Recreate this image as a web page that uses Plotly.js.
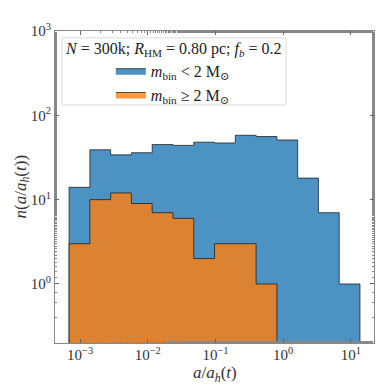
<!DOCTYPE html>
<html>
<head>
<meta charset="utf-8">
<script src="https://cdn.plot.ly/plotly-3.0.1.min.js"></script>
<style>
  html, body { margin: 0; padding: 0; background: #fff; }
  #chart { width: 390px; height: 390px; }
</style>
</head>
<body>
<div id="chart"></div>
<script>
// histogram bins in log10(a/a_h), equal width
var binStart = -3.162;
var binWidth = 0.3068;

// counts per bin
var countsLow  = [14, 39, 34, 36, 45, 44, 48, 47, 58, 56, 51, 18, 7, 1];   // m_bin < 2 Msun
var countsHigh = [3, 10, 12, 9, 7, 6, 2, 3, 3, 1, 0, 0, 0, 0];            // m_bin >= 2 Msun

// tick labels
var xTickVals = [1e-3, 1e-2, 1e-1, 1, 10];
var xTickText = ['10<sup>−3</sup>', '10<sup>−2</sup>', '10<sup>−1</sup>', '10<sup>0</sup>', '10<sup>1</sup>'];
var yTickVals = [1, 10, 100, 1000];
var yTickText = ['10<sup>0</sup>', '10<sup>1</sup>', '10<sup>2</sup>', '10<sup>3</sup>'];

var floorVal = 0.01; // below the visible y range, closes the filled steps

function stepTrace(counts, name, fillColor) {
  // x: bin edges, y: count of the bin starting at that edge (hv steps)
  var xs = [], ys = [];
  xs.push(Math.pow(10, binStart)); ys.push(floorVal);
  for (var i = 0; i < counts.length; i++) {
    xs.push(Math.pow(10, binStart + i * binWidth));
    ys.push(counts[i] > 0 ? counts[i] : floorVal);
  }
  xs.push(Math.pow(10, binStart + counts.length * binWidth));
  ys.push(floorVal);
  return {
    x: xs, y: ys,
    type: 'scatter',
    mode: 'lines',
    name: name,
    line: { shape: 'hv', color: 'rgba(25,25,25,0.75)', width: 1 },
    fill: 'toself',
    fillcolor: fillColor,
    hoverinfo: 'skip'
  };
}

var traces = [
  stepTrace(countsLow, '<i>m</i><sub>bin</sub> < 2 M<sub>⊙</sub>', 'rgba(31,119,180,0.8)'),
  stepTrace(countsHigh, '<i>m</i><sub>bin</sub> ≥ 2 M<sub>⊙</sub>', 'rgba(255,127,14,0.8)')
];

var serif = 'Liberation Serif, DejaVu Serif, serif';

var axisCommon = {
  type: 'log',
  tickmode: 'array',
  showgrid: false,
  zeroline: false,
  showline: true,
  linecolor: '#888',
  linewidth: 1,
  mirror: 'ticks',
  ticks: 'inside',
  ticklen: 4,
  tickcolor: '#666',
  minor: { ticks: 'inside', ticklen: 2, tickcolor: '#888', showgrid: false },
  tickfont: { family: serif, size: 15, color: '#333' }
};

var layout = {
  width: 390,
  height: 390,
  margin: { l: 55, r: 16, t: 31, b: 47 },
  paper_bgcolor: '#fff',
  plot_bgcolor: '#fff',
  font: { family: serif, color: '#333' },
  showlegend: true,
  xaxis: Object.assign({}, axisCommon, {
    range: [-3.37, 1.34],
    tickvals: xTickVals, ticktext: xTickText,
    ticklabelstandoff: -2
  }),
  yaxis: Object.assign({}, axisCommon, {
    range: [-0.7, 3.0],
    tickvals: yTickVals, ticktext: yTickText,
    ticklabelstandoff: 0
  }),
  legend: {
    x: 0.175, y: 0.927,
    xanchor: 'left', yanchor: 'top',
    bgcolor: 'rgba(0,0,0,0)',
    borderwidth: 0,
    itemwidth: 30,
    tracegroupgap: 0,
    font: { family: serif, size: 16, color: '#222' }
  },
  // legend frame
  shapes: [{
    type: 'rect', xref: 'paper', yref: 'paper',
    x0: 0.022, x1: 0.724, y0: 0.763, y1: 0.978,
    line: { color: '#dcdcdc', width: 1 },
    fillcolor: 'rgba(255,255,255,0.85)',
    layer: 'above'
  }],
  annotations: [{
    // legend title
    xref: 'paper', yref: 'paper',
    x: 0.373, y: 0.94,
    xanchor: 'center', yanchor: 'middle',
    showarrow: false,
    text: '<i>N</i> = 300k; <i>R</i><sub>HM</sub> = 0.80 pc; <i>f<sub>b</sub></i> = 0.2',
    font: { family: serif, size: 16, color: '#222' }
  }, {
    // x axis title
    xref: 'paper', yref: 'paper',
    x: 0.5, y: -0.1,
    xanchor: 'center', yanchor: 'middle',
    showarrow: false,
    text: '<i>a</i>/<i>a<sub>h</sub></i>(<i>t</i>)',
    font: { family: serif, size: 17, color: '#333' }
  }, {
    // y axis title
    xref: 'paper', yref: 'paper',
    x: -0.105, y: 0.5,
    xanchor: 'center', yanchor: 'middle',
    textangle: -90,
    showarrow: false,
    text: '<i>n</i>(<i>a</i>/<i>a<sub>h</sub></i>(<i>t</i>))',
    font: { family: serif, size: 17, color: '#333' }
  }]
};

Plotly.newPlot('chart', traces, layout, { displayModeBar: false, staticPlot: true });
</script>
</body>
</html>
